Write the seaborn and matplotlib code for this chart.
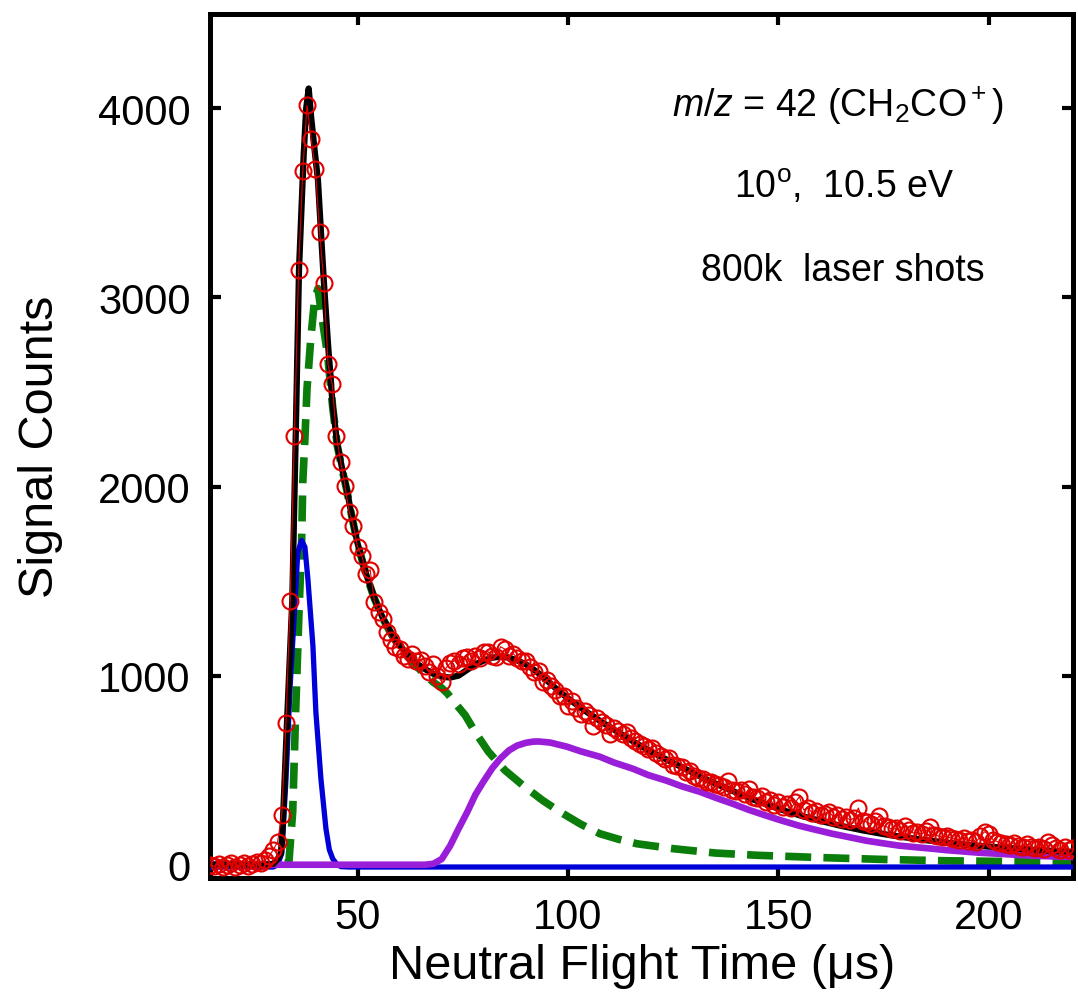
import numpy as np
import pandas as pd
import seaborn as sns
import matplotlib as mpl
import matplotlib.pyplot as plt

# measured time-of-flight data (1 us steps, 15..220 us)
t_data = np.arange(15, 221)
counts = [
    0, -8, 5, -10, 0, 8, -12, 0, 10, -5, 5, 15, 10, 25, 45,            # 15-29
    80, 120, 265, 751, 1397, 2265, 3143, 3670, 4016, 3836,             # 30-39
    3677, 3344, 3079, 2646, 2540, 2265, 2132, 2005, 1868, 1794,        # 40-49
    1683, 1635, 1540, 1560, 1392, 1339, 1302, 1233, 1190, 1153,        # 50-59
    1140, 1106, 1090, 1116, 1079, 1085, 1053, 1021, 1060, 1000,        # 60-69
    968, 1040, 1065, 1079, 1060, 1095, 1100, 1080, 1106, 1095,         # 70-79
    1125, 1127, 1105, 1100, 1153, 1140, 1105, 1116, 1095, 1079,        # 80-89
    1075, 1045, 1021, 1026, 968, 975, 945, 925, 894, 890,              # 90-99
    841, 865, 830, 799, 815, 790, 735, 775, 755, 740,                  # 100-109
    693, 725, 705, 690, 703, 670, 655, 640, 630, 610,                  # 110-119
    620, 590, 575, 560, 565, 530, 520, 515, 490, 495,                  # 120-129
    470, 460, 455, 440, 435, 429, 420, 410, 444, 395,                  # 130-139
    390, 395, 372, 402, 360, 352, 365, 330, 345, 318,                  # 140-149
    330, 305, 320, 300, 330, 360, 290, 300, 275, 285,                  # 150-159
    262, 270, 280, 255, 265, 240, 250, 238, 245, 300,                  # 160-169
    232, 226, 215, 232, 259, 205, 198, 188, 192, 178,                  # 170-179
    206, 182, 168, 172, 162, 176, 201, 158, 152, 146,                  # 180-189
    150, 140, 136, 132, 142, 126, 130, 122, 150, 175,                  # 190-199
    160, 132, 122, 116, 110, 106, 116, 100, 96, 110,                   # 200-209
    92, 86, 96, 82, 120, 102, 86, 76, 92, 80,                          # 210-219
    86,                                                                # 220
]

# total fit (black)
fit_t = [15, 28, 30, 31, 31.8, 32.2, 33.2, 34.5, 35.3, 36.1, 37.2, 37.8, 38.4, 39, 39.8,
         40.6, 41.3, 42, 43, 44.1, 45.2, 46.5, 47.5, 48.5, 50, 52, 54, 56, 58, 60, 62,
         64, 66, 68, 70, 72, 74, 76, 78, 80, 82, 84, 86, 88, 90, 92, 94, 96, 98, 100,
         104, 108, 112, 116, 120, 124, 128, 132, 136, 140, 144, 148, 152, 156, 160,
         165, 170, 175, 180, 185, 190, 195, 200, 205, 210, 215, 220]
fit_y = [0, 0, 5, 30, 60, 190, 730, 1400, 2250, 3150, 3750, 4000, 4105, 3950, 3780,
         3620, 3350, 3085, 2750, 2429, 2220, 2079, 1980, 1860, 1700, 1540, 1410, 1305, 1225, 1160, 1110,
         1065, 1035, 1010, 995, 990, 1000, 1030, 1060, 1080, 1095, 1100, 1095, 1080, 1060, 1030, 995, 955, 915, 880,
         815, 755, 700, 645, 595, 550, 505, 460, 420, 382, 345, 312, 282, 255, 232,
         205, 182, 162, 145, 130, 117, 105, 96, 88, 80, 73, 68]

# fast component (green dashed)
fast_t = [15, 32.5, 33.2, 33.7, 34.6, 35.3, 36.1, 36.7, 37, 37.5, 38, 38.9, 39.8, 40.6,
          41.7, 42.9, 44.1, 45.2, 46.5, 47.5, 48.5, 50, 52, 54, 56, 58, 60, 62, 64, 66,
          68, 70, 71.4, 73, 75.6, 78, 81.1, 85, 89.4, 94, 98.1, 103, 107.6, 112, 116.4,
          125, 135, 145, 160, 175, 190, 205, 220]
fast_y = [0, 0, 10, 16, 280, 809, 1339, 1688, 2026, 2254, 2518, 2783, 2990, 3047,
          2873, 2693, 2420, 2215, 2075, 1975, 1858, 1698, 1538, 1408, 1302, 1220, 1152, 1098, 1050, 1005,
          965, 935, 905, 860, 790, 700, 598, 500, 418, 340, 280, 215, 164, 135, 111,
          85, 62, 50, 38, 28, 21, 17, 15]

# narrow component (blue)
narrow_t = [15, 30, 31, 32, 33, 34, 35, 35.8, 36.7, 37.5, 38.2, 39.4, 40.1, 41.3, 42.5,
            43.3, 44.1, 45, 46, 48, 220]
narrow_y = [-12, -12, 0, 60, 450, 950, 1330, 1650, 1715, 1680, 1513, 1159, 809, 455, 190,
            80, 32, 5, -10, -12, -12]

# slow component (purple)
slow_t = [15, 66, 68, 70, 72, 74, 76.1, 78, 79.9, 82, 83.9, 86, 87.9, 90, 91.7, 93, 95.8,
          99.8, 103, 107.6, 111, 115.4, 119, 123.5, 127, 131.3, 135, 139.1, 143, 147.2,
          151, 155, 159, 162.8, 167, 170.9, 175, 178.7, 183, 186.5, 190, 194.6, 198,
          202.4, 206, 210.2, 214, 218.3, 220]
slow_y = [0, 0, 5, 30, 100, 190, 280, 370, 439, 510, 561, 605, 630, 645, 651, 652, 646,
          624, 600, 571, 540, 508, 475, 444, 415, 386, 355, 323, 290, 259,
          232, 206, 184, 164, 145, 127, 113, 101, 92, 85, 77, 69, 63,
          58, 53, 48, 45, 42, 41]

df_data = pd.DataFrame({"t": t_data, "counts": counts})
df_fit = pd.DataFrame({"t": fit_t, "y": fit_y})
df_fast = pd.DataFrame({"t": fast_t, "y": fast_y})
df_narrow = pd.DataFrame({"t": narrow_t, "y": narrow_y})
df_slow = pd.DataFrame({"t": slow_t, "y": slow_y})

sns.set_style("ticks")
plt.rcParams['font.family'] = ['Liberation Sans', 'DejaVu Sans']
plt.rcParams['mathtext.fontset'] = 'custom'
plt.rcParams['mathtext.rm'] = 'Liberation Sans'
plt.rcParams['mathtext.it'] = 'Liberation Sans:italic'
for k in ['text.color', 'axes.labelcolor', 'xtick.color', 'ytick.color', 'axes.edgecolor']:
    plt.rcParams[k] = 'black'

fig = plt.figure(figsize=(10.78, 9.95), dpi=100)
ax = fig.add_axes([0.195, 0.1166, 0.8004, 0.8685])

sns.lineplot(data=df_fast, x="t", y="y", ax=ax, color="#0a7d0a", lw=5.5,
             zorder=2).lines[-1].set_dashes((3.4, 1.6))
sns.lineplot(data=df_narrow, x="t", y="y", ax=ax, color="#0000d8", lw=3.8, zorder=3)
sns.lineplot(data=df_slow, x="t", y="y", ax=ax, color="#9a1ed8", lw=4.8, zorder=4)
sns.lineplot(data=df_fit, x="t", y="y", ax=ax, color="black", lw=4.5, zorder=5)
sns.lineplot(data=df_data, x="t", y="counts", ax=ax, color="#e00000", lw=0.8,
             marker="o", markersize=11.5, markerfacecolor="none",
             markeredgecolor="#e00000", markeredgewidth=1.5, zorder=6)

ax.set_xlim(15, 220)
ax.set_ylim(-70, 4500)
ax.set_xticks([50, 100, 150, 200])
ax.set_yticks([0, 1000, 2000, 3000, 4000])
ax.tick_params(direction="in", length=8, width=3, top=True, right=True,
               labelsize=30, pad=14)
for s in ax.spines.values():
    s.set_linewidth(3.6)

ax.set_xlabel("Neutral Flight Time (\u03bcs)", fontsize=35, labelpad=4)
ax.set_ylabel("Signal Counts", fontsize=35, labelpad=25)

ax.text(0.777, 0.894, r"$\it{m/z}$ = 42 (CH$_2$CO$^+$)", transform=fig.transFigure,
        ha="center", va="center", fontsize=27)
ax.text(0.783, 0.812, r"10$^\mathrm{o}$,  10.5 eV", transform=fig.transFigure,
        ha="center", va="center", fontsize=27)
ax.text(0.782, 0.728, "800k  laser shots", transform=fig.transFigure,
        ha="center", va="center", fontsize=27)

fig.savefig("out.png", dpi=100)
